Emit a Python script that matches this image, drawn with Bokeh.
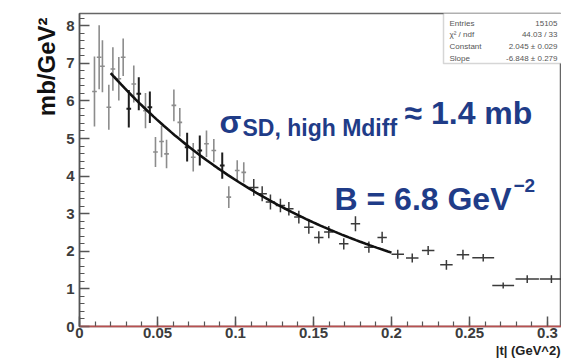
import numpy as np
from bokeh.plotting import figure
from bokeh.models import Range1d, FixedTicker, Label, BoxAnnotation, Span, Title
from bokeh.embed import file_html
from bokeh.resources import INLINE

# ---------------- data ----------------
# light grey points (low |t|)
grey_t = [0.0096, 0.0126, 0.0147, 0.0188, 0.0214, 0.0252, 0.0280, 0.0348, 0.0423, 0.0487,
          0.0526, 0.0558, 0.0605, 0.0643, 0.0729, 0.0814, 0.0861, 0.0957, 0.1011, 0.1053]
grey_y = [6.25, 7.16, 6.92, 5.83, 6.85, 6.59, 7.16, 6.45, 5.74, 4.64,
          4.92, 4.59, 5.88, 5.43, 4.50, 4.86, 4.68, 3.44, 4.15, 4.10]
grey_ey = [0.93, 0.85, 0.69, 0.60, 0.58, 0.58, 0.50, 0.49, 0.47, 0.40,
           0.42, 0.38, 0.42, 0.38, 0.38, 0.35, 0.31, 0.29, 0.27, 0.27]
grey_et = [0.0015] * 20

# black points (low |t|)
black_t = [0.0316, 0.0380, 0.0451, 0.0690, 0.0771, 0.0915]
black_y = [5.79, 6.19, 5.83, 4.77, 4.68, 4.28]
black_ey = [0.50, 0.44, 0.42, 0.38, 0.40, 0.35]
black_et = [0.0015] * 6

# dark points (higher |t|)
dark_t = [0.1117, 0.1171, 0.1224, 0.1288, 0.1342, 0.1406, 0.1470, 0.1534, 0.1598, 0.1694,
          0.1769, 0.1855, 0.1940, 0.2040, 0.2133, 0.2235, 0.2352, 0.2458, 0.2588, 0.2716,
          0.2870, 0.3025]
dark_y = [3.70, 3.53, 3.31, 3.22, 3.13, 2.91, 2.64, 2.37, 2.51, 2.20,
          2.73, 2.11, 2.37, 1.92, 1.82, 2.02, 1.64, 1.91, 1.83, 1.09,
          1.26, 1.26]
dark_ey = [0.22, 0.20, 0.20, 0.18, 0.18, 0.17, 0.17, 0.16, 0.16, 0.15,
           0.20, 0.15, 0.15, 0.12, 0.12, 0.12, 0.13, 0.13, 0.10, 0.08,
           0.10, 0.10]
dark_et = [0.003] * 13 + [0.004] * 5 + [0.007, 0.007, 0.0075, 0.0075]

# exponential fit  exp(Constant + Slope*|t|)
fit_constant = 2.045
fit_slope = -6.848
fit_range = [0.02, 0.2]

x_tick_values = [0, 0.05, 0.1, 0.15, 0.2, 0.25, 0.3]
x_tick_labels = ["0", "0.05", "0.1", "0.15", "0.2", "0.25", "0.3"]
y_tick_values = [0, 1, 2, 3, 4, 5, 6, 7, 8]
y_tick_labels = ["0", "1", "2", "3", "4", "5", "6", "7", "8"]

x_title = "|t| (GeV^2)"
y_title = "mb/GeV²"

stats_names = ["Entries", "χ² / ndf", "Constant", "Slope"]
stats_values = ["15105", "44.03 / 33", "2.045 ± 0.029", "-6.848 ± 0.279"]

# ---------------- layout ----------------
W, H = 561, 358
LEFT, TOP, BOTTOM = 79, 13, 32
PX_T = 1560.0   # px per unit of |t|
PX_Y = 37.6     # px per mb/GeV^2
x_end = (W - LEFT) / PX_T
y_end = (H - TOP - BOTTOM) / PX_Y


def dx(px):
    return (px - LEFT) / PX_T


def dy(py):
    return (H - BOTTOM - py) / PX_Y


NAVY = "#1f3c88"
FONT = "Liberation Sans"

p = figure(width=W, height=H, output_backend="svg", toolbar_location=None,
           x_range=Range1d(0, x_end), y_range=Range1d(0, y_end),
           min_border_left=LEFT, min_border_right=0, min_border_top=TOP,
           min_border_bottom=BOTTOM)
p.background_fill_color = "white"
p.border_fill_color = "white"
p.outline_line_color = "#666666"
p.outline_line_width = 1.5
p.xgrid.visible = False
p.ygrid.visible = False

# axes
minor_x = [round(i * 0.01, 2) for i in range(0, 32)]
minor_y = [round(i * 0.2, 1) for i in range(0, 43)]
p.xaxis.ticker = FixedTicker(ticks=x_tick_values, minor_ticks=minor_x)
p.yaxis.ticker = FixedTicker(ticks=y_tick_values, minor_ticks=minor_y)
p.xaxis.major_label_overrides = dict(zip(x_tick_values, x_tick_labels))
p.yaxis.major_label_overrides = dict(zip(y_tick_values, y_tick_labels))
for ax in (p.xaxis, p.yaxis):
    ax.major_tick_in = 10
    ax.major_tick_out = 0
    ax.minor_tick_in = 5
    ax.minor_tick_out = 0
    ax.major_label_text_font = FONT
    ax.major_label_text_font_style = "bold"
    ax.major_label_text_font_size = "15px"
    ax.major_label_text_color = "#3c3c3c"
    ax.major_tick_line_color = "#555555"
    ax.minor_tick_line_color = "#555555"
    ax.major_tick_line_width = 1.5
    ax.minor_tick_line_width = 1.2
p.xaxis.major_label_standoff = 1
p.yaxis.major_label_standoff = 5
p.yaxis.axis_line_color = "#555555"
p.yaxis.axis_line_width = 1.5
p.xaxis.axis_line_color = "#b85050"
p.xaxis.axis_line_width = 1.5
p.add_layout(Span(location=0, dimension="width", line_color="#b85050", line_width=1.5))

# axis titles, aligned at the end of each axis (ROOT style)
p.add_layout(Title(text=y_title, align="right", text_font=FONT, text_font_style="bold",
                   text_font_size="24px", text_color="#111111", standoff=8, offset=4),
             "left")
p.add_layout(Title(text=x_title, align="right", text_font=FONT, text_font_style="bold",
                   text_font_size="13px", text_color="#222222", standoff=0, offset=1),
             "below")


def draw_points(t, y, ey, et, color, width):
    p.segment(x0=t, x1=t,
              y0=[a - b for a, b in zip(y, ey)], y1=[a + b for a, b in zip(y, ey)],
              line_color=color, line_width=width)
    p.segment(x0=[a - b for a, b in zip(t, et)], x1=[a + b for a, b in zip(t, et)],
              y0=y, y1=y, line_color=color, line_width=width)


draw_points(grey_t, grey_y, grey_ey, grey_et, "#8c8c8c", 1.6)
draw_points(black_t, black_y, black_ey, black_et, "#1e1e1e", 2.0)
draw_points(dark_t, dark_y, dark_ey, dark_et, "#3a3a3a", 1.5)

# fit curve
ft = np.linspace(fit_range[0], fit_range[1], 80)
p.line(ft, np.exp(fit_constant + fit_slope * ft), line_color="#111111", line_width=2.6)

# annotations
p.add_layout(Label(x=dx(219), y=dy(121), text="σ", text_font=FONT, text_font_style="bold",
                   text_font_size="32px", text_color=NAVY, text_baseline="alphabetic"))
p.add_layout(Label(x=dx(242), y=dy(127), text="SD, high Mdiff", text_font=FONT,
                   text_font_style="bold", text_font_size="23px", text_color=NAVY,
                   text_baseline="alphabetic"))
p.add_layout(Label(x=dx(404), y=dy(112), text="≈ 1.4 mb", text_font=FONT,
                   text_font_style="bold", text_font_size="32px", text_color=NAVY,
                   text_baseline="alphabetic"))
p.add_layout(Label(x=dx(334), y=dy(198), text="B = 6.8 GeV", text_font=FONT,
                   text_font_style="bold", text_font_size="32px", text_color=NAVY,
                   text_baseline="alphabetic"))
p.add_layout(Label(x=dx(513), y=dy(185), text="−2", text_font=FONT,
                   text_font_style="bold", text_font_size="19px", text_color=NAVY,
                   text_baseline="alphabetic"))

# stats box
p.add_layout(BoxAnnotation(left=dx(443), right=dx(570), top=dy(12), bottom=dy(63),
                           fill_color="white", fill_alpha=1.0, line_color="#777777",
                           line_width=1.5))
rows_py = [23, 34, 46, 58]
for name, val, py in zip(stats_names, stats_values, rows_py):
    p.add_layout(Label(x=dx(449), y=dy(py), text=name, text_font=FONT,
                       text_font_size="8px", text_color="#555555",
                       text_baseline="alphabetic"))
    p.add_layout(Label(x=dx(557), y=dy(py), text=val, text_font=FONT,
                       text_font_size="8px", text_color="#555555", text_align="right",
                       text_baseline="alphabetic"))

open("out.html", "w").write(file_html(p, INLINE))
